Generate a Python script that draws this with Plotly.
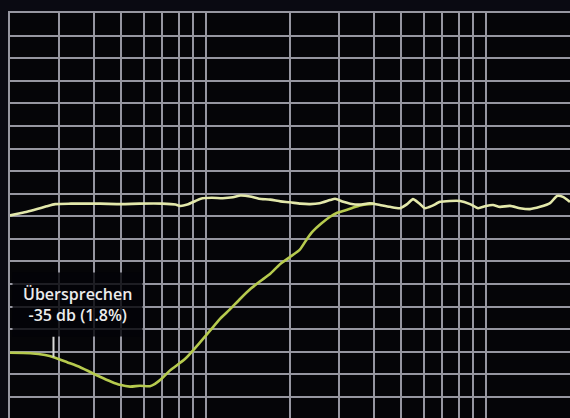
import math
import plotly.graph_objects as go

# Frequency response (Hz, dB): main channel and crosstalk into the neighbour channel
main_freq = [20, 21.5, 23, 25, 27, 29, 33, 38, 42, 50, 58, 70, 78, 81, 86, 92, 96, 105, 115, 125,
             133, 144, 155, 170, 185, 200, 218, 236, 255, 278, 290, 310, 328, 355, 386, 419, 455,
             494, 524, 550, 578, 607, 643, 687, 745, 809, 879, 939, 1002, 1062, 1125, 1221, 1326,
             1439, 1563, 1697, 1798, 1888, 2000]
main_db = [0.2, 0.6, 1.0, 1.6, 2.2, 2.7, 2.8, 2.8, 2.8, 2.7, 2.8, 2.8, 2.6, 2.3, 2.6, 3.4, 3.9, 4.1,
           4.0, 4.2, 4.6, 4.4, 3.9, 3.7, 3.3, 3.1, 2.8, 2.7, 2.9, 3.6, 3.9, 3.2, 2.8, 2.6, 2.9, 2.5,
           2.1, 1.8, 2.7, 3.8, 2.9, 1.8, 2.3, 3.2, 3.4, 3.4, 2.7, 1.8, 2.3, 2.5, 2.1, 2.3, 1.8,
           1.6, 2.1, 2.9, 4.5, 4.3, 3.2]

xtalk_freq = [20, 23.6, 26.7, 29, 32, 35.6, 41.9, 46, 49.4, 53.7, 58.2, 63.2, 65.9, 70, 74.6, 84.3,
              95.4, 104, 112.5, 122, 132.6, 145, 156.3, 170, 184.2, 200, 217.2, 230, 241.6, 260,
              278, 295, 314, 335, 355.7, 380, 402]
xtalk_db = [-30.2, -30.3, -30.7, -31.3, -32.3, -33.4, -35.5, -36.6, -37.3, -37.7, -37.5, -37.6,
            -37.1, -35.8, -34.1, -31.6, -27.9, -25.2, -22.7, -20.6, -18.3, -16.0, -14.4, -12.7,
            -10.6, -9.0, -7.3, -5.0, -3.3, -1.5, -0.1, 0.8, 1.3, 1.9, 2.4, 2.7, 2.8]

# Annotated crosstalk reading and the point it refers to
label_lines = ["Übersprechen", "-35 db (1.8%)"]
marker_freq = 28.6
marker_db = -31.2

# Grid positions (log frequency axis, 5 dB steps)
x_grid = [20, 30, 40, 50, 60, 70, 80, 90, 100, 200, 300, 400, 500, 600, 700, 800, 900, 1000]
x_range_hz = [20, 2000]
y_range_db = [-44.64, 45]

grid_color = "#9696a0"

fig = go.Figure()
fig.add_trace(go.Scatter(x=xtalk_freq, y=xtalk_db, mode="lines",
                         line=dict(color="#b6ca4e", width=2.6, shape="spline", smoothing=0.6),
                         hoverinfo="skip"))
fig.add_trace(go.Scatter(x=main_freq, y=main_db, mode="lines",
                         line=dict(color="#e3e8ab", width=2.6, shape="spline", smoothing=0.6),
                         hoverinfo="skip"))

fig.update_xaxes(type="log", range=[math.log10(v) for v in x_range_hz],
                 tickvals=x_grid, showticklabels=False, ticks="",
                 showgrid=True, gridcolor=grid_color, gridwidth=2,
                 side="top", showline=True, linecolor=grid_color, linewidth=2,
                 zeroline=False, fixedrange=True)
fig.update_yaxes(range=y_range_db, dtick=5, tick0=0, showticklabels=False, ticks="",
                 showgrid=True, gridcolor=grid_color, gridwidth=2,
                 showline=True, linecolor=grid_color, linewidth=2,
                 zeroline=False, fixedrange=True)

# Label box with the crosstalk value
fig.add_annotation(x=math.log10(marker_freq), y=marker_db, xref="x", yref="y",
                   text="<br>".join(label_lines), showarrow=False,
                   xshift=24, yshift=53, align="center",
                   font=dict(family="Open Sans, Noto Sans, sans-serif", size=16,
                             color="#ececec", weight=600),
                   bgcolor="rgba(4,4,8,0.82)", borderpad=10)
# Pointer tick down to the curve
fig.add_annotation(x=math.log10(marker_freq), y=marker_db, xref="x", yref="y",
                   text="", showarrow=True, ax=0, ay=-22, arrowhead=0,
                   arrowwidth=2, arrowcolor="#d8d8d8", standoff=0)

fig.update_layout(width=570, height=418,
                  margin=dict(l=10, r=0, t=13, b=0),
                  paper_bgcolor="#0a0a12", plot_bgcolor="#050508",
                  showlegend=False)

fig.write_html("out.html", config={"displayModeBar": False})
